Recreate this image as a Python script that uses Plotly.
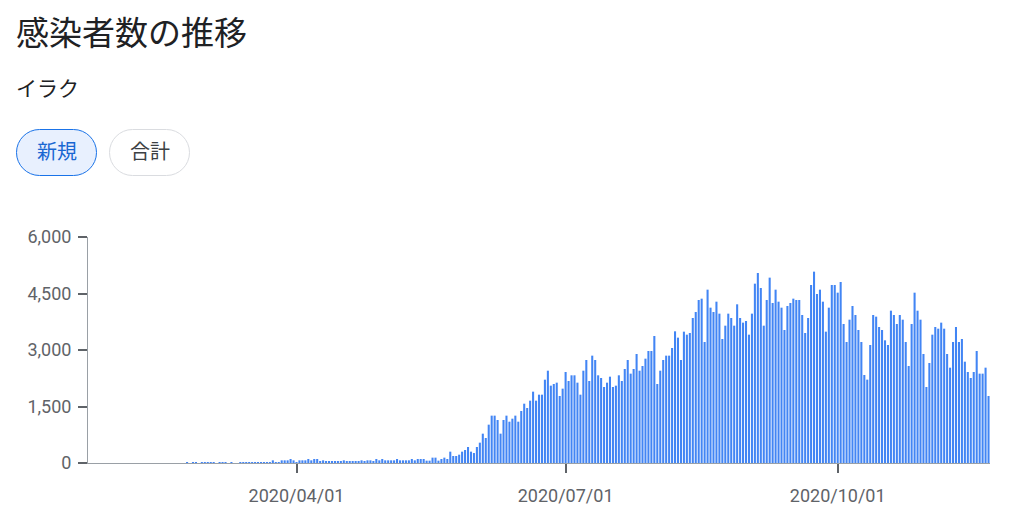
import pandas as pd
import plotly.graph_objects as go

# ---- data (daily new cases, Iraq, starting 2020-02-24) ----
start_date = "2020-02-24"
feb = [25, 0, 25, 25, 0, 25]
mar = [25, 25, 25, 25, 0, 25, 25, 25, 0, 25, 0, 0, 25, 25, 25, 25, 25, 25, 25, 25,
       25, 25, 25, 71, 25, 25, 71, 71, 71, 106, 71]
apr = [25, 71, 71, 71, 106, 71, 106, 106, 27, 71, 27, 27, 27, 27, 27, 27, 71, 27, 27, 27,
       27, 27, 71, 27, 71, 71, 27, 106, 71, 106]
may = [71, 71, 71, 71, 106, 71, 71, 71, 71, 106, 71, 106, 106, 106, 62, 62, 142, 142, 62, 106,
       142, 106, 301, 186, 186, 221, 301, 345, 425, 301, 265]
jun = [425, 540, 779, 664, 1018, 1257, 1257, 1142, 779, 1142, 1257, 1097, 1177, 1257, 1097,
       1381, 1575, 1460, 1655, 1894, 1655, 1814, 1814, 2212, 2451, 2053, 2097, 2133, 1779, 1974]
jul = [2416, 2177, 2328, 2328, 2133, 1814, 2451, 2735, 2177, 2850, 2735, 2328, 2257, 2018, 2133,
       2292, 2018, 2053, 2328, 2177, 2496, 2735, 2372, 2496, 2894, 2451, 2575, 2770, 2974, 2974, 3372]
aug = [2097, 2451, 2735, 2850, 2850, 3053, 3496, 3328, 2735, 3487, 3407, 3452, 3850, 4009, 4328,
       4363, 3213, 4602, 4124, 4009, 4283, 3965, 3292, 3646, 3965, 3850, 3646, 4213, 3850, 3726, 3770]
sep = [3407, 3965, 4761, 5045, 4646, 3646, 4328, 4921, 4248, 4602, 4283, 4124, 3531, 4168, 4248,
       4363, 4328, 4328, 3929, 3452, 3850, 4726, 5080, 4487, 4602, 4283, 3487, 4124, 4726, 4726]
oct_ = [4522, 4806, 3690, 3213, 3805, 4168, 3929, 3531, 3213, 2336, 2213, 3133, 3929, 3885, 3611,
        3531, 3257, 3133, 4044, 3929, 3690, 3929, 3805, 3213, 2575, 3690, 4522, 4044, 3805, 2894, 2018]
nov = [2655, 3407, 3611, 3566, 3726, 3566, 2894, 2531, 3213, 3611, 3213, 3292, 2690, 2416, 2257,
       2416, 2974, 2372, 2372, 2531, 1779]

values = feb + mar + apr + may + jun + jul + aug + sep + oct_ + nov
dates = pd.date_range(start_date, periods=len(values), freq="D")

x_range = ["2020-01-21 12:00", "2020-11-21 12:00"]
x_tickvals = ["2020-04-01", "2020-07-01", "2020-10-01"]
x_ticktext = ["2020/04/01", "2020/07/01", "2020/10/01"]
y_tickvals = [0, 1500, 3000, 4500, 6000]
y_ticktext = ["0", "1,500", "3,000", "4,500", "6,000"]

title_text = "感染者数の推移"
subtitle_text = "イラク"
button_labels = ["新規", "合計"]

# ---- layout geometry (pixels) ----
W, H = 1020, 507
L, R, T, B = 88, 30, 237, 44
PW = W - L - R
PH = H - T - B

def pxx(px):
    return (px - L) / PW

def pxy(py):
    return (H - B - py) / PH

CJK = "Noto Sans CJK JP, Noto Sans, sans-serif"
TICKFONT = dict(family="Roboto, Arial, sans-serif", size=18, color="#5f6368")

fig = go.Figure()
fig.add_trace(go.Bar(
    x=dates, y=values,
    marker=dict(color="#4285f4", line=dict(width=0)),
    hoverinfo="skip",
))

def pill_path(x0, y0, x1, y1):
    r = (y1 - y0) / 2
    k = 0.5523 * r
    def p(X, Y):
        return f"{X - L:.2f},{T - Y:.2f}"
    return (
        f"M{p(x0 + r, y0)} L{p(x1 - r, y0)} "
        f"C{p(x1 - r + k, y0)} {p(x1, y0 + r - k)} {p(x1, y0 + r)} "
        f"C{p(x1, y0 + r + k)} {p(x1 - r + k, y1)} {p(x1 - r, y1)} "
        f"L{p(x0 + r, y1)} "
        f"C{p(x0 + r - k, y1)} {p(x0, y0 + r + k)} {p(x0, y0 + r)} "
        f"C{p(x0, y0 + r - k)} {p(x0 + r - k, y0)} {p(x0 + r, y0)} Z"
    )

pills = [
    dict(box=(16.5, 129.5, 96.5, 175.5), fill="#e8f0fe", line="#1a73e8", text="#1967d2"),
    dict(box=(109.5, 129.5, 189.5, 175.5), fill="#ffffff", line="#dadce0", text="#3c4043"),
]
shapes = []
annotations = []
for lab, pdef in zip(button_labels, pills):
    x0, y0, x1, y1 = pdef["box"]
    shapes.append(dict(
        type="path", xref="paper", yref="paper",
        xsizemode="pixel", ysizemode="pixel", xanchor=0, yanchor=1,
        path=pill_path(x0, y0, x1, y1),
        fillcolor=pdef["fill"], line=dict(color=pdef["line"], width=1),
        layer="below",
    ))
    annotations.append(dict(
        text=lab, xref="paper", yref="paper",
        x=pxx((x0 + x1) / 2), y=pxy((y0 + y1) / 2 - 2.5),
        xanchor="center", yanchor="middle", showarrow=False,
        font=dict(family=CJK, size=20, color=pdef["text"]),
    ))

annotations.append(dict(
    text=title_text, xref="paper", yref="paper",
    x=pxx(14), y=pxy(31), xanchor="left", yanchor="middle", showarrow=False,
    font=dict(family=CJK, size=33, color="#202124"),
))
annotations.append(dict(
    text=subtitle_text, xref="paper", yref="paper",
    x=pxx(14), y=pxy(87), xanchor="left", yanchor="middle", showarrow=False,
    font=dict(family=CJK, size=21, color="#202124"),
))

fig.update_layout(
    width=W, height=H,
    margin=dict(l=L, r=R, t=T, b=B, pad=0, autoexpand=False),
    paper_bgcolor="white", plot_bgcolor="white",
    bargap=0.3, showlegend=False,
    shapes=shapes, annotations=annotations,
    xaxis=dict(
        type="date", range=x_range, tickvals=x_tickvals, ticktext=x_ticktext,
        ticks="outside", ticklen=9, tickwidth=2, tickcolor="#5f6368",
        showline=True, linecolor="#9aa0a6", linewidth=1,
        showgrid=False, zeroline=False, tickfont=TICKFONT, ticklabelstandoff=7,
        fixedrange=True, automargin=False,
    ),
    yaxis=dict(
        range=[0, 6000], tickvals=y_tickvals, ticktext=y_ticktext,
        ticks="outside", ticklen=9, tickwidth=2, tickcolor="#5f6368",
        showline=True, linecolor="#9aa0a6", linewidth=1,
        showgrid=False, zeroline=False, tickfont=TICKFONT, ticklabelstandoff=3,
        fixedrange=True, automargin=False,
    ),
)

fig.write_html(
    "out.html",
    config={"displayModeBar": False},
    post_script="document.body.style.margin='0';document.body.style.overflow='hidden';",
)
